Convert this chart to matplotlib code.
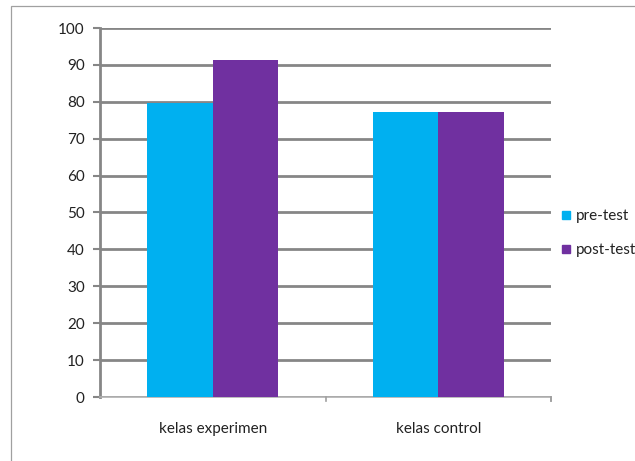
import matplotlib
matplotlib.use("Agg")
import matplotlib.pyplot as plt
from matplotlib.patches import Rectangle
from matplotlib.lines import Line2D
import numpy as np

categories = ["kelas experimen", "kelas control"]
series_names = ["pre-test", "post-test"]
pre_test = [79.6, 77.2]
post_test = [91.2, 77.2]
yticks = [0, 10, 20, 30, 40, 50, 60, 70, 80, 90, 100]

colors = ["#00B0F0", "#7030A0"]

plt.rcParams['font.family'] = ['Lato', 'DejaVu Sans']

W, H = 635, 461
fig = plt.figure(figsize=(W/100, H/100), dpi=100)
fig.patch.set_facecolor("white")

# outer chart border
fig.add_artist(Rectangle((11/W, -0.1), 2.0, 1 - 6/H + 0.1, transform=fig.transFigure,
                         fill=False, edgecolor="#A0A0A0", linewidth=0.9))

ax = fig.add_axes([100/W, 1 - 397/H, (551 - 100)/W, (397 - 28)/H])
x = np.arange(len(categories))
bw = 0.29
ax.bar(x - bw/2, pre_test, width=bw, color=colors[0], label=series_names[0], zorder=3)
ax.bar(x + bw/2, post_test, width=bw, color=colors[1], label=series_names[1], zorder=3)

ax.set_xlim(-0.5, len(categories) - 0.5)
ax.set_ylim(0, 100)
ax.set_yticks(yticks)
ax.set_yticklabels([str(v) for v in yticks])
ax.yaxis.grid(True, color="#868686", linewidth=2.0, zorder=0)
ax.set_axisbelow(True)

ax.set_xticks(x)
ax.set_xticklabels(categories)
ax.tick_params(axis="x", length=0, pad=18, labelsize=11, labelcolor="#222222")
ax.tick_params(axis="y", length=5, width=1.5, color="#868686", pad=6, labelsize=11, labelcolor="#222222")
# category boundary ticks on x axis
for b in np.arange(-0.5, len(categories), 1.0)[1:]:
    ax.plot([b, b], [0, -1.0], color="#A0A0A0", linewidth=1.2, clip_on=False, zorder=4)
ax.plot([len(categories) - 0.5] * 2, [0, -1.0], color="#A0A0A0", linewidth=1.2, clip_on=False, zorder=4)

for s in ["top", "right"]:
    ax.spines[s].set_visible(False)
ax.spines["left"].set_color("#868686")
ax.spines["left"].set_linewidth(2.0)
ax.spines["bottom"].set_color("#B0B0B0")
ax.spines["bottom"].set_linewidth(1.2)

handles = [Line2D([], [], marker="s", linestyle="none", markersize=6,
                  markerfacecolor=c, markeredgecolor=c) for c in colors]
fig.legend(handles, series_names, loc="center left", bbox_to_anchor=(548/W, 1 - 233/H),
           frameon=False, fontsize=11, handlelength=0.6, handletextpad=0.3,
           labelspacing=1.3, labelcolor="#222222")

fig.savefig("out.png", dpi=100, facecolor="white")
